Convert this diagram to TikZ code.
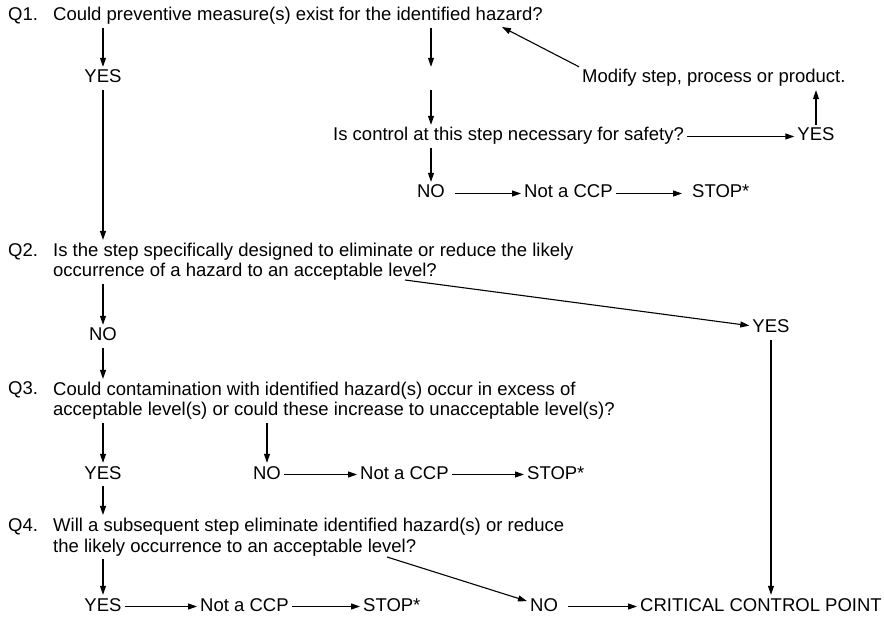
\documentclass[tikz,border=0pt]{standalone}
\usepackage{fontspec}
\setmainfont{Liberation Sans}
\usepackage{tikz}
\usetikzlibrary{arrows.meta}
\tikzstyle{word} = [inner sep=3pt, text height=13pt, text depth=4pt, anchor=base]
\tikzstyle{wordw} = [word, anchor=base west]
\tikzstyle{quest} = [inner sep=3pt, align=left, anchor=base west]
\tikzstyle{arr} = [-{Triangle[length=9pt,width=6pt]}, line width=1.1pt]
\newcommand{\notccp}{Not a CCP}
\newcommand{\stp}{STOP*}

\begin{document}
\begin{tikzpicture}[x=1pt, y=-1pt, font=\fontsize{18.5}{20.5}\selectfont]
			\useasboundingbox (0,0) rectangle (884,617);
			% Q1
			\node [wordw] (q1l) at (5,21) {Q1.};
			\node [quest] (q1) at (50,21) {Could preventive measure(s) exist for the identified hazard?};
			\node [word] (yes1) at (103,83) {YES};
			\node [word] (blank) at (431,83) {};
			\node [wordw] (modify) at (579,83) {Modify step, process or product.};
			\node [wordw] (ctrl) at (330,141) {Is control at this step necessary for safety?};
			\node [word] (yes2) at (816,141) {YES};
			\node [word] (no1) at (431,198) {NO};
			\node [wordw] (nccp1) at (521,198) {\notccp};
			\node [wordw] (stop1) at (689,198) {\stp};
			\coordinate (haz) at (502,27);
			% Q2 (base is the last line)
			\node [wordw] (q2l) at (5,257) {Q2.};
			\node [quest] (q2) at (50,277) {Is the step specifically designed to eliminate or reduce the likely\\occurrence of a hazard to an acceptable level?};
			\node [word] (no2) at (103,341) {NO};
			\node [word] (yes3) at (771,333) {YES};
			\coordinate (q2end) at (405,280);
			% Q3
			\node [wordw] (q3l) at (5,395) {Q3.};
			\node [quest] (q3) at (50,416) {Could contamination with identified hazard(s) occur in excess of\\acceptable level(s) or could these increase to unacceptable level(s)?};
			\node [word] (yes4) at (103,479) {YES};
			\node [word] (no3) at (267,479) {NO};
			\node [wordw] (nccp2) at (357,479) {\notccp};
			\node [wordw] (stop2) at (524,479) {\stp};
			% Q4
			\node [wordw] (q4l) at (5,532) {Q4.};
			\node [quest] (q4) at (50,552) {Will a subsequent step eliminate identified hazard(s) or reduce\\the likely occurrence to an acceptable level?};
			\node [word] (yes5) at (103,611) {YES};
			\node [wordw] (nccp3) at (197,611) {\notccp};
			\node [wordw] (stop3) at (360,611) {\stp};
			\node [wordw] (no4) at (527,611) {NO};
			\node [wordw] (ccp) at (637,611) {CRITICAL CONTROL POINT};
			\coordinate (q4end) at (387,557);

			\draw [arr] (q1.south -| yes1) -- (yes1);
			\draw [arr] (q1.south -| blank) -- (blank);
			\draw [arr] (blank) -- (ctrl.north -| blank);
			\draw [arr] (ctrl) -- (yes2);
			\draw [arr] (yes2) -- (yes2 |- modify.south);
			\draw [arr] (modify.north west) -- (haz);
			\draw [arr] (ctrl.south -| no1) -- (no1);
			\draw [arr, shorten <=7pt] (no1) -- (nccp1);
			\draw [arr, shorten >=7pt] (nccp1) -- (stop1);
			\draw [arr] (yes1) -- (q2.north -| yes1);
			\draw [arr] (q2.south -| no2) -- (no2);
			\draw [arr] (q2end) -- (yes3);
			\draw [arr] (yes3) -- (yes3 |- ccp.north);
			\draw [arr] (no2) -- (q3.north -| no2);
			\draw [arr] (q3.south -| yes4) -- (yes4);
			\draw [arr] (q3.south -| no3) -- (no3);
			\draw [arr] (no3) -- (nccp2);
			\draw [arr] (nccp2) -- (stop2);
			\draw [arr] (yes4) -- (q4.north -| yes4);
			\draw [arr] (q4.south -| yes5) -- (yes5);
			\draw [arr] (yes5) -- (nccp3);
			\draw [arr] (nccp3) -- (stop3);
			\draw [arr] (q4end) -- (no4);
			\draw [arr, shorten <=7pt] (no4) -- (ccp);
		\end{tikzpicture}
\end{document}
